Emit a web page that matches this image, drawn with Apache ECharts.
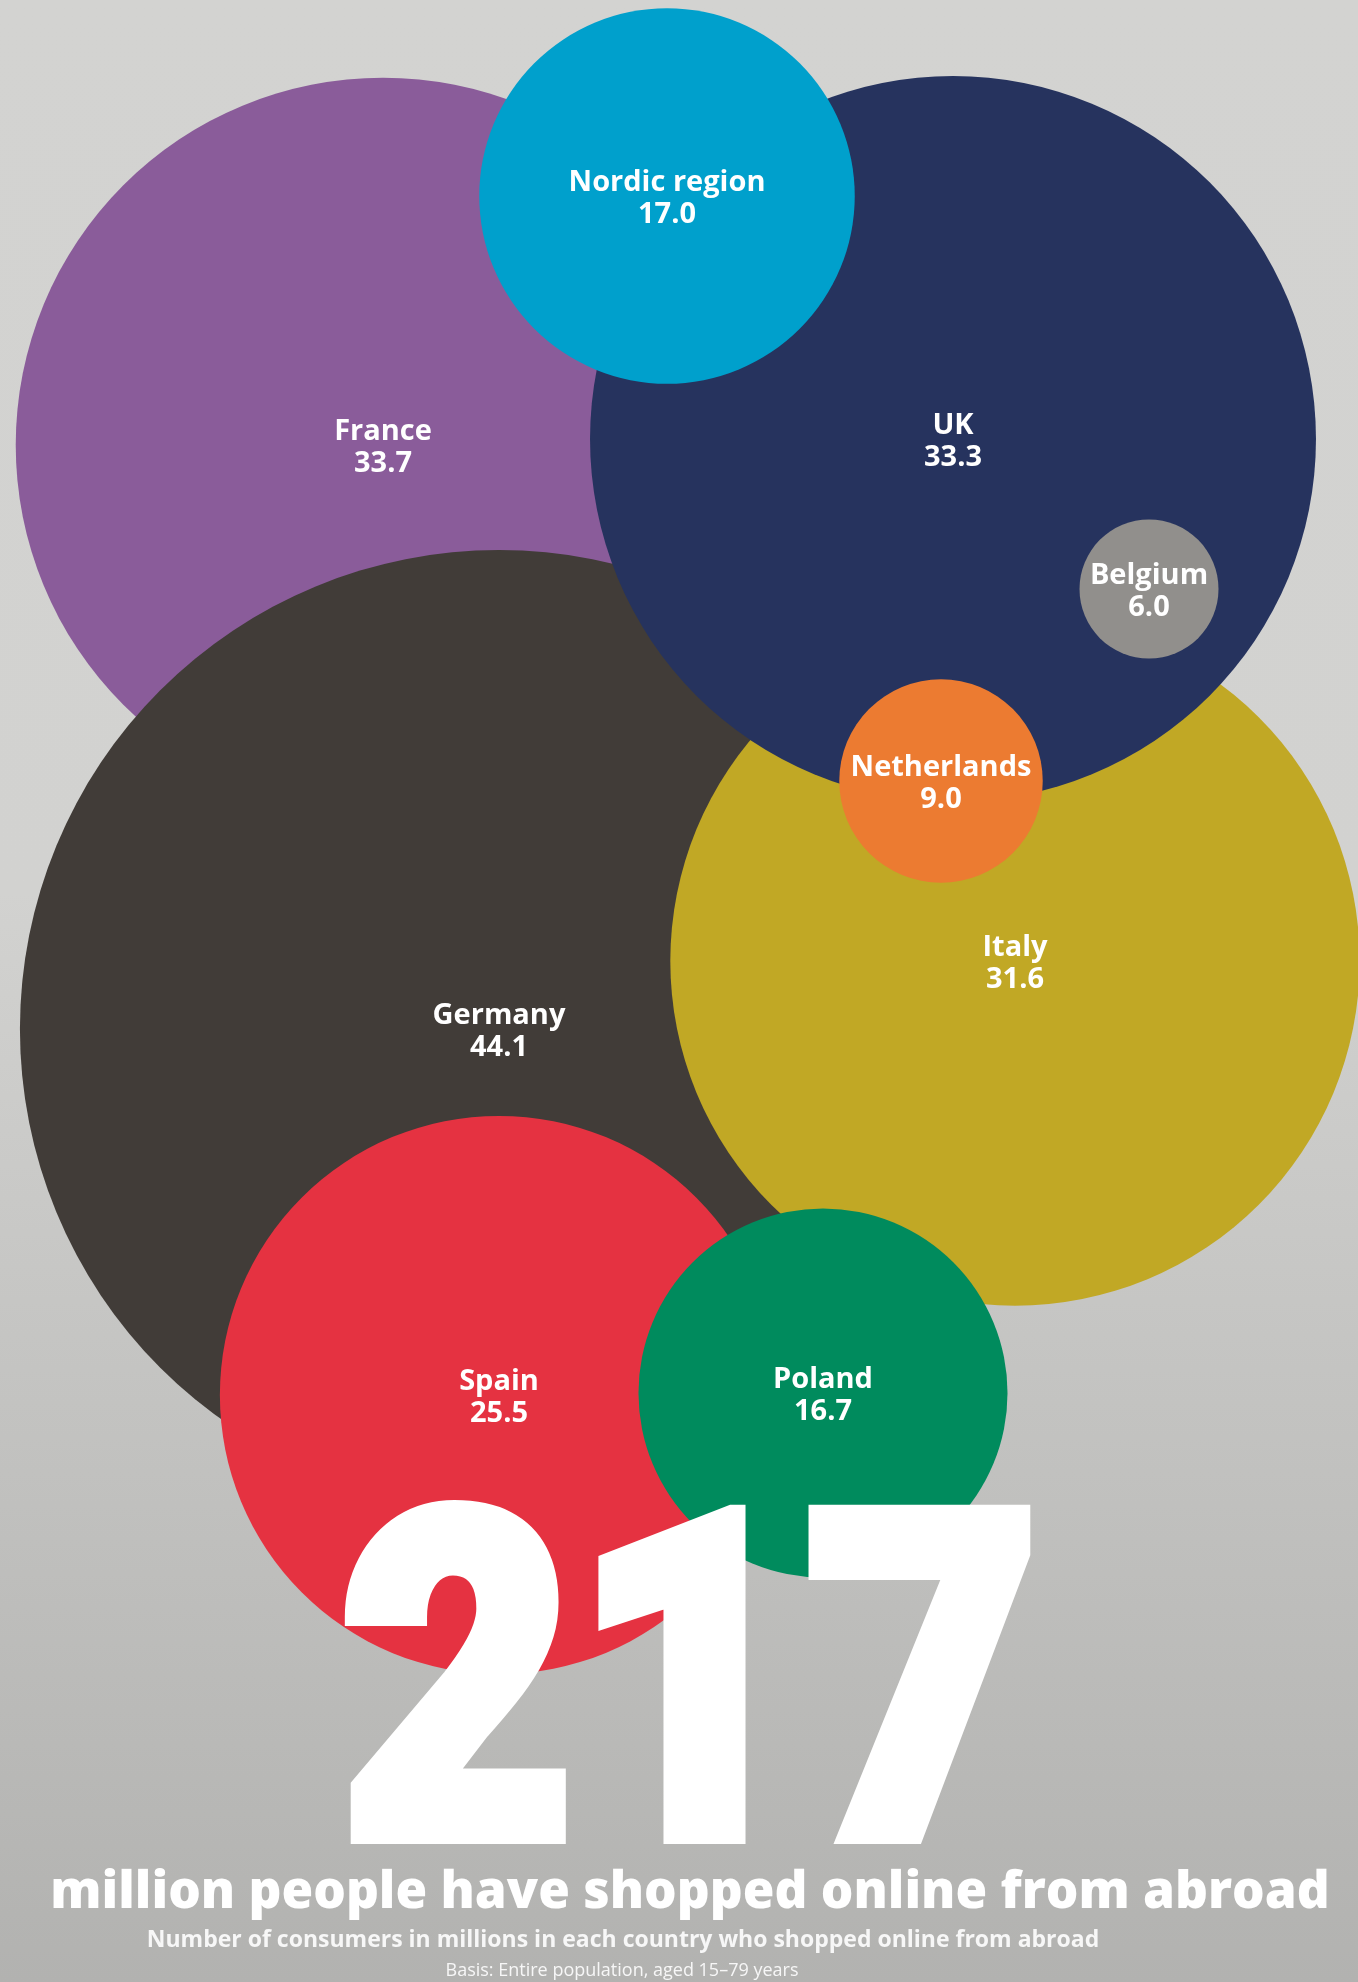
<!DOCTYPE html>
<html>
<head>
<meta charset="utf-8">
<title>Cross-border online shoppers</title>
<script src="https://cdn.jsdelivr.net/npm/echarts@6/dist/echarts.min.js"></script>
<style>
  html, body { margin: 0; padding: 0; }
  #chart { width: 1358px; height: 1982px; }
</style>
</head>
<body>
<div id="chart"></div>
<script>
// Consumers (millions) who have shopped online from abroad, by country.
// Arrays are in drawing order: later bubbles sit on top of earlier ones.
const countries = ['France', 'Germany', 'Italy', 'UK', 'Nordic region', 'Belgium', 'Netherlands', 'Spain', 'Poland'];
const consumers = [33.7, 44.1, 31.6, 33.3, 17.0, 6.0, 9.0, 25.5, 16.7];
const total = '217';

// Bubble colours, one per country.
const bubbleColors = ['#8a5c9a', '#413c38', '#c1a825', '#26335e', '#00a0cc', '#918f8c', '#ec7b31', '#e53241', '#008b5d'];

// Hand-packed bubble centres in page units (x right, y down).
const bubbleCentres = [
  [383, 445], [499, 1029], [1015, 961], [953, 439], [667, 196],
  [1149, 589], [941, 781], [499, 1395], [823, 1393]
];

const headline = 'million people have shopped online from abroad';
const subtitle = 'Number of consumers in millions in each country who shopped online from abroad';
const basis = 'Basis: Entire population, aged 15\u201379 years';

const W = 1358, H = 1982;

// Bubble radius grows linearly with the number of consumers.
function bubbleRadius(v) { return 5 + 10.75 * v; }

const bubbles = countries.map((name, i) => ({
  name: name,
  value: [bubbleCentres[i][0], bubbleCentres[i][1], consumers[i]],
  itemStyle: { color: bubbleColors[i] }
}));

const chart = echarts.init(document.getElementById('chart'), null, { renderer: 'canvas' });

chart.setOption({
  animation: false,
  backgroundColor: {
    type: 'linear', x: 0, y: 0, x2: 0, y2: 1,
    colorStops: [
      { offset: 0, color: '#d3d3d1' },
      { offset: 0.45, color: '#d2d2d0' },
      { offset: 1, color: '#b2b2b0' }
    ]
  },
  grid: { left: 0, right: 0, top: 0, bottom: 0, containLabel: false },
  xAxis: { type: 'value', min: 0, max: W, show: false },
  yAxis: { type: 'value', min: 0, max: H, inverse: true, show: false },
  series: [{
    type: 'scatter',
    clip: false,
    symbol: 'circle',
    symbolSize: val => 2 * bubbleRadius(val[2]),
    itemStyle: { opacity: 1 },
    emphasis: { disabled: true },
    label: {
      show: true,
      position: 'inside',
      offset: [0, 3],
      color: '#ffffff',
      fontFamily: 'Open Sans',
      fontWeight: 700,
      fontSize: 29,
      lineHeight: 32,
      align: 'center',
      formatter: p => p.name + '\n' + p.value[2].toFixed(1)
    },
    data: bubbles
  }],
  graphic: [
    {
      type: 'text',
      x: 690, y: 1722,
      scaleX: 0.888,
      z: 100,
      style: {
        text: total,
        x: 0, y: 0,
        fill: '#ffffff',
        stroke: '#ffffff',
        lineWidth: 18,
        lineJoin: 'miter',
        font: '900 452px Roboto',
        align: 'center',
        verticalAlign: 'middle'
      }
    },
    {
      type: 'text',
      x: 690, y: 1893,
      z: 100,
      style: {
        text: headline,
        fill: '#ffffff',
        font: '800 51.3px "Open Sans"',
        align: 'center',
        verticalAlign: 'middle'
      }
    },
    {
      type: 'text',
      x: 623, y: 1940,
      z: 100,
      style: {
        text: subtitle,
        fill: '#f7f7f7',
        font: '700 23px "Open Sans"',
        align: 'center',
        verticalAlign: 'middle'
      }
    },
    {
      type: 'text',
      x: 622, y: 1971,
      z: 100,
      style: {
        text: basis,
        fill: '#f7f7f7',
        font: '400 18px "Open Sans"',
        align: 'center',
        verticalAlign: 'middle'
      }
    }
  ]
});
</script>
</body>
</html>
